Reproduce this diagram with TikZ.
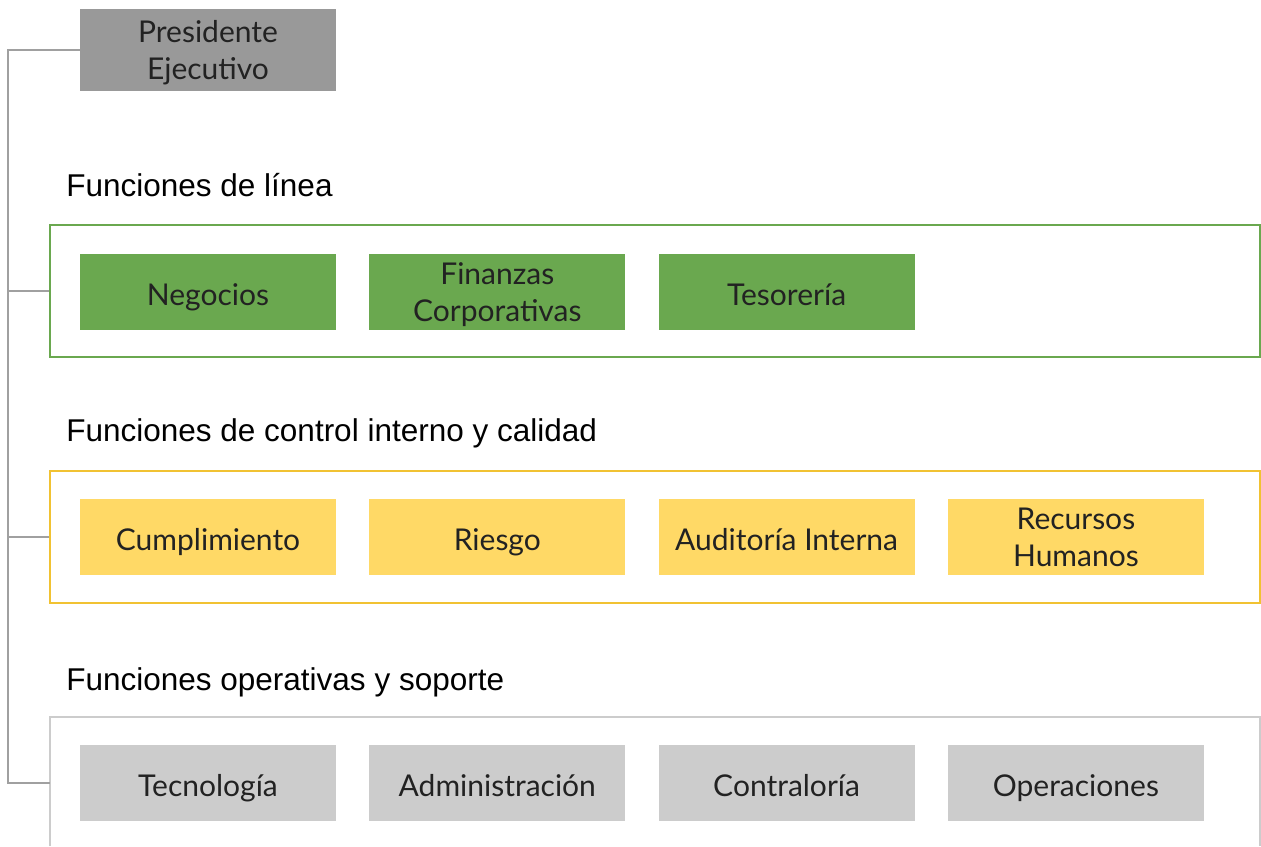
\documentclass[tikz,border=0pt]{standalone}
\usepackage{fontspec}
\setmainfont{Liberation Sans}
\newfontfamily\boxfont{Lato}
\usepackage{tikz}
\usetikzlibrary{positioning}
\definecolor{chiefgray}{HTML}{999999}
\definecolor{linegreen}{HTML}{6AA84F}
\definecolor{ctrlfill}{HTML}{FFD966}
\definecolor{ctrlframe}{HTML}{F1C232}
\definecolor{opgray}{HTML}{CCCCCC}
\definecolor{conngray}{HTML}{A0A0A0}
\definecolor{ink}{HTML}{222222}
\newcommand{\boxstrut}{\rule[-4.5pt]{0pt}{22.4pt}}
\tikzstyle{unit} = [rectangle, minimum width=128pt, minimum height=38pt, inner xsep=0pt, inner ysep=-1.5pt, align=center, text=ink, font=\boxfont\fontsize{15}{18.5}\selectfont, execute at begin node=\boxstrut, execute at end node=\boxstrut]
\tikzstyle{twoline} = [text depth=-8pt]
\tikzstyle{chief} = [unit, fill=chiefgray, minimum height=41pt]
\tikzstyle{linebox} = [unit, fill=linegreen]
\tikzstyle{ctrlbox} = [unit, fill=ctrlfill]
\tikzstyle{opbox} = [unit, fill=opgray]
\tikzstyle{frame} = [rectangle, minimum width=605pt, minimum height=66pt, inner sep=0pt, line width=0.8pt]
\tikzstyle{heading} = [anchor=base west, inner sep=0pt, text=black, font=\fontsize{15.75}{18}\selectfont]
\tikzstyle{conn} = [draw=conngray, line width=0.8pt]

\begin{document}
\begin{tikzpicture}[x=0.5pt, y=-0.5pt]
\useasboundingbox (0,0) rectangle (1261,846);

\node (pres) [chief, twoline] at (208,50) {Presidente\\Ejecutivo};

% funciones de linea
\node (hlinea) [heading] at (66,196) {Funciones de línea};
\node (linea) [frame, draw=linegreen] at (655,291) {};
\node (neg) [linebox] at (208,292) {Negocios};
\node (fin) [linebox, twoline, right=16.25pt of neg] {Finanzas\\Corporativas};
\node (tes) [linebox, right=16.25pt of fin] {Tesorería};

% control interno
\node (hctrl) [heading] at (66,441) {Funciones de control interno y calidad};
\node (ctrl) [frame, draw=ctrlframe] at (655,537) {};
\node (cum) [ctrlbox] at (208,537) {Cumplimiento};
\node (rie) [ctrlbox, right=16.25pt of cum] {Riesgo};
\node (aud) [ctrlbox, right=16.25pt of rie] {Auditoría Interna};
\node (rrhh) [ctrlbox, twoline, right=16.25pt of aud] {Recursos\\Humanos};

% operativas y soporte (marco abierto abajo)
\node (hop) [heading] at (66,690) {Funciones operativas y soporte};
\coordinate (op) at (50,783);
\draw [draw=opgray, line width=0.8pt] (50,846) -- (50,717) -- (1260,717) -- (1260,846);
\node (tec) [opbox] at (208,783) {Tecnología};
\node (adm) [opbox, right=16.25pt of tec] {Administración};
\node (con) [opbox, right=16.25pt of adm] {Contraloría};
\node (ope) [opbox, right=16.25pt of con] {Operaciones};

% tronco
\coordinate (trunk) at (8,50);
\draw [conn] (pres.west) -- (trunk) -- (trunk |- op) -- (op);
\draw [conn] (trunk |- linea.west) -- (linea.west);
\draw [conn] (trunk |- ctrl.west) -- (ctrl.west);

\end{tikzpicture}
\end{document}
